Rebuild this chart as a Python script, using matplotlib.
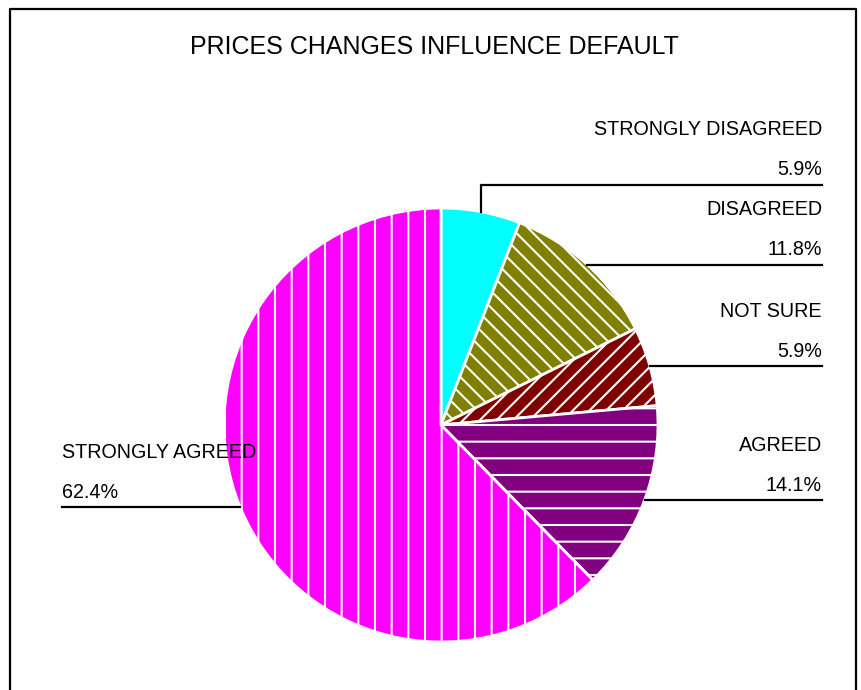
import numpy as np
import matplotlib
matplotlib.use("Agg")
import matplotlib.pyplot as plt
from matplotlib.lines import Line2D

plt.rcParams['font.family'] = ['Liberation Sans', 'DejaVu Sans']
plt.rcParams['hatch.linewidth'] = 1.5

title = "PRICES CHANGES INFLUENCE DEFAULT"
categories = ["STRONGLY DISAGREED", "DISAGREED", "NOT SURE", "AGREED", "STRONGLY AGREED"]
values = [5.9, 11.8, 5.9, 14.1, 62.4]
pct_labels = ["5.9%", "11.8%", "5.9%", "14.1%", "62.4%"]
colors = ["#00FFFF", "#808000", "#800000", "#800080", "#FF00FF"]
hatches = [None, "\\\\", "//", "-", "|"]

W, H, DPI = 861, 690, 100
fig = plt.figure(figsize=(W / DPI, H / DPI), dpi=DPI)

# outer frame (left, top, right)
def fx(px):
    return px / W
def fy(py):
    return 1 - py / H
fig.add_artist(Line2D([fx(10), fx(10), fx(856), fx(856)],
                      [fy(700), fy(9), fy(9), fy(700)],
                      color="black", lw=1.6, transform=fig.transFigure))

fig.text(fx(434), fy(47), title, ha="center", va="center", fontsize=18)

cx, cy, R = 441, 425, 217
ax = fig.add_axes([(cx - R) / W, (H - cy - R) / H, 2 * R / W, 2 * R / H])
wedges, _ = ax.pie(values, colors=colors, startangle=90, counterclock=False,
                   wedgeprops=dict(edgecolor="white", linewidth=2))
for w, h in zip(wedges, hatches):
    if h:
        w.set_hatch(h)
ax.set_xlim(-1, 1)
ax.set_ylim(-1, 1)
ax.set_aspect("equal")
ax.axis("off")

# pixel -> data helpers
def dx(px):
    return (px - cx) / R
def dy(py):
    return (cy - py) / R

right_x = 822
left_x = 62
raise_first = 27  # px vertical rise for first leader
for i, (w, lab, pct) in enumerate(zip(wedges, categories, pct_labels)):
    ang = np.deg2rad((w.theta1 + w.theta2) / 2)
    ax_x, ax_y = np.cos(ang), np.sin(ang)
    if ax_x >= 0:
        tx, ha = dx(right_x), "right"
    else:
        tx, ha = dx(left_x), "left"
    if i == 0:
        ly = ax_y + raise_first / R
        xs = [ax_x, ax_x, tx]
        ys = [ax_y, ly, ly]
    else:
        ly = ax_y
        xs = [ax_x, tx]
        ys = [ax_y, ly]
    ax.add_line(Line2D(xs, ys, color="black", lw=1.6, clip_on=False))
    ax.text(tx, ly + 15 / R, pct, ha=ha, va="center", fontsize=14.2, clip_on=False)
    ax.text(tx, ly + 55 / R, lab, ha=ha, va="center", fontsize=14.2, clip_on=False)

fig.savefig("out.png", dpi=DPI)
